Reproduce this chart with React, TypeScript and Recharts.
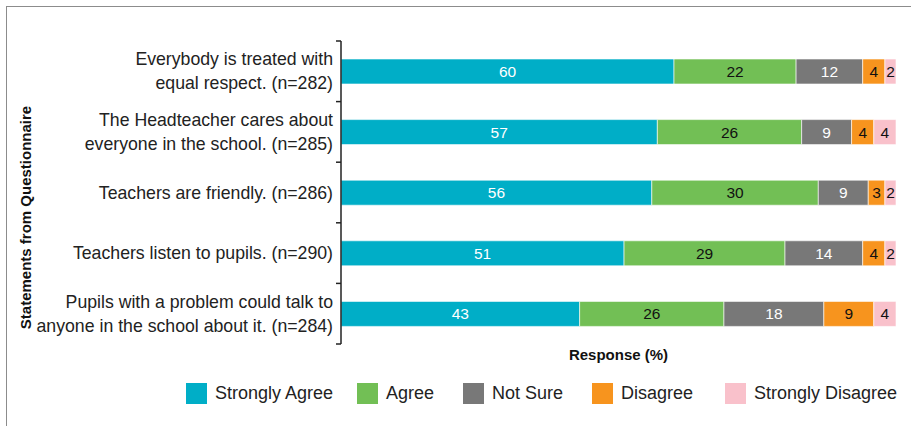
import React from 'react';
import { BarChart, Bar, XAxis, YAxis, LabelList, Legend } from 'recharts';

const statements = [
  'Everybody is treated with\nequal respect. (n=282)',
  'The Headteacher cares about\neveryone in the school. (n=285)',
  'Teachers are friendly. (n=286)',
  'Teachers listen to pupils. (n=290)',
  'Pupils with a problem could talk to\nanyone in the school about it. (n=284)',
];
const stronglyAgree = [60, 57, 56, 51, 43];
const agree = [22, 26, 30, 29, 26];
const notSure = [12, 9, 9, 14, 18];
const disagree = [4, 4, 3, 4, 9];
const stronglyDisagree = [2, 4, 2, 2, 4];

const series = [
  { key: 'sa', name: 'Strongly Agree', color: '#00aec7', text: '#ffffff' },
  { key: 'a', name: 'Agree', color: '#72bf55', text: '#111111' },
  { key: 'ns', name: 'Not Sure', color: '#787878', text: '#ffffff' },
  { key: 'd', name: 'Disagree', color: '#f7941e', text: '#111111' },
  { key: 'sd', name: 'Strongly Disagree', color: '#f9c1cb', text: '#111111' },
];

// legend item widths (px), to line up with the original layout
const legendWidths = [171, 106, 129, 133, 190];

const data = statements.map((name, i) => ({
  name,
  sa: stronglyAgree[i],
  a: agree[i],
  ns: notSure[i],
  d: disagree[i],
  sd: stronglyDisagree[i],
}));

function StatementTick(props: any) {
  const { x, y, payload, index } = props;
  const lines = String(payload.value).split('\n');
  const half = payload.offset || 30.3;
  const ax = x + 8;
  const lh = 24;
  const start = y - ((lines.length - 1) * lh) / 2;
  return (
    <g>
      <line x1={ax - 5} x2={ax} y1={y - half} y2={y - half} stroke="#222" strokeWidth={1.5} />
      {index === statements.length - 1 && (
        <line x1={ax - 5} x2={ax} y1={y + half} y2={y + half} stroke="#222" strokeWidth={1.5} />
      )}
      <text x={x} y={start} textAnchor="end" fill="#222" fontSize={17.7} dominantBaseline="central">
        {lines.map((l, i) => (
          <tspan key={i} x={x} y={start + i * lh}>
            {l}
          </tspan>
        ))}
      </text>
    </g>
  );
}

function XTitle(props: any) {
  const vb = props.viewBox || {};
  return (
    <text x={vb.x + vb.width / 2} y={vb.y + 16} textAnchor="middle" fontSize={15} fontWeight="bold" fill="#111">
      Response (%)
    </text>
  );
}

function YTitle(props: any) {
  const vb = props.viewBox || {};
  const x = vb.x + 25;
  const y = vb.y + vb.height / 2 + 25;
  return (
    <text
      x={x}
      y={y}
      transform={`rotate(-90 ${x} ${y})`}
      textAnchor="middle"
      dominantBaseline="central"
      fontSize={15}
      fontWeight="bold"
      fill="#111"
    >
      Statements from Questionnaire
    </text>
  );
}

function renderLegend() {
  return (
    <div style={{ display: 'flex', alignItems: 'center', height: 24, paddingLeft: 186 }}>
      {series.map((s, i) => (
        <div key={s.key} style={{ display: 'flex', alignItems: 'center', width: legendWidths[i], flex: 'none' }}>
          <span style={{ width: 21, height: 21, background: s.color, display: 'inline-block', marginRight: 8 }} />
          <span style={{ fontSize: 18, color: '#222', whiteSpace: 'nowrap' }}>{s.name}</span>
        </div>
      ))}
    </div>
  );
}

export default function App() {
  return (
    <div
      style={{
        position: 'absolute',
        left: 0,
        top: 0,
        width: 911,
        height: 426,
        overflow: 'hidden',
        background: '#fff',
        fontFamily: '"Liberation Sans", Arial, sans-serif',
      }}
    >
      <div
        style={{
          position: 'absolute',
          left: 6,
          top: 6,
          width: 940,
          height: 460,
          borderTop: '1.5px solid #8c8c8c',
          borderLeft: '1.5px solid #8c8c8c',
        }}
      />
      <BarChart
        width={911}
        height={426}
        data={data}
        layout="vertical"
        margin={{ top: 41, right: 15, bottom: 21, left: 0 }}
        barSize={25}
      >
        <XAxis
          type="number"
          domain={[0, 100]}
          axisLine={false}
          tickLine={false}
          tick={false}
          height={37}
          label={<XTitle />}
        />
        <YAxis
          type="category"
          dataKey="name"
          width={341}
          tickLine={false}
          axisLine={{ stroke: '#222', strokeWidth: 1.5 }}
          tick={<StatementTick />}
          interval={0}
          label={<YTitle />}
        />
        <Legend verticalAlign="bottom" align="left" wrapperStyle={{ left: 0, width: 911 }} content={renderLegend} />
        {series.map(s => (
          <Bar
            key={s.key}
            dataKey={s.key}
            name={s.name}
            stackId="r"
            fill={s.color}
            stroke="#ffffff"
            strokeWidth={0.6}
            isAnimationActive={false}
          >
            <LabelList dataKey={s.key} position="center" fill={s.text} fontSize={15.5} />
          </Bar>
        ))}
      </BarChart>
    </div>
  );
}
